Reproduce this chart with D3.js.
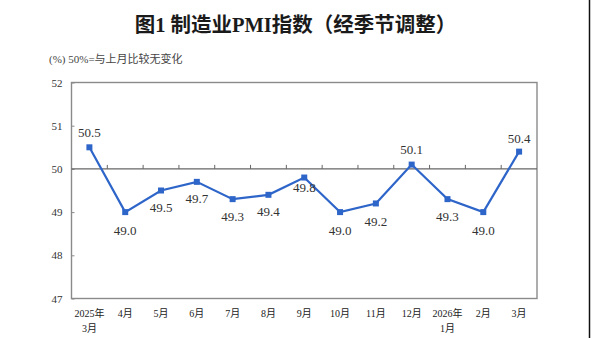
<!DOCTYPE html>
<html><head><meta charset="utf-8">
<script src="https://cdn.jsdelivr.net/npm/d3@7"></script>
<style>body{margin:0;background:#fff;}svg{display:block;}</style>
</head><body>
<svg id="c" width="591" height="338"></svg>
<script>
const categories = [["2025年","3月"],["4月"],["5月"],["6月"],["7月"],["8月"],["9月"],["10月"],["11月"],["12月"],["2026年","1月"],["2月"],["3月"]];
const pmi = [50.5,49.0,49.5,49.7,49.3,49.4,49.8,49.0,49.2,50.1,49.3,49.0,50.4];
const yTicks = [47,48,49,50,51,52];
const labelDy = [-15,18,17,17,17,17,10,18,18,-15,17,18,-13];

const svg = d3.select("#c");
const W=591,H=338;
const m={l:71.5,r:537,t:82.5,b:298.5};
const x = d3.scaleBand().domain(d3.range(categories.length)).range([m.l,m.r]);
const y = d3.scaleLinear().domain([47,52]).range([m.b,m.t]);
const serif = "'Liberation Serif','Noto Sans CJK SC',serif";
const sans = "'Noto Sans CJK SC',sans-serif";

const title = svg.append("text").attr("x",W/2).attr("y",32).attr("text-anchor","middle")
  .attr("font-family",sans).attr("font-size",20.5).attr("font-weight",700).attr("fill","#1a1a1a");
[["图",sans],["1 ",serif],["制造业",sans],["PMI",serif],["指数（经季节调整）",sans]].forEach(([s,f])=>
  title.append("tspan").attr("font-family",f).text(s));
svg.append("text").attr("x",49).attr("y",63)
  .attr("font-family",serif).attr("font-size",11).attr("fill","#444")
  .text("(%) 50%=与上月比较无变化");

// frame
svg.append("rect").attr("x",m.l).attr("y",m.t).attr("width",m.r-m.l).attr("height",m.b-m.t)
  .attr("fill","none").attr("stroke","#8a8a8a").attr("stroke-width",1.4);

// y axis
const ya = svg.append("g").attr("transform",`translate(${m.l},0)`)
  .call(d3.axisLeft(y).tickValues(yTicks).tickSize(-3).tickPadding(9).tickFormat(d3.format("d")));
ya.select(".domain").remove();
ya.selectAll("line").attr("stroke","#8a8a8a");
ya.selectAll("text").attr("font-family",serif).attr("font-size",11).attr("fill","#333");

// 50 line with ticks
const g50 = svg.append("g").attr("transform",`translate(0,${y(50)})`)
  .call(d3.axisTop(x).tickValues(d3.range(1,categories.length)).tickSize(4).tickFormat(""));
g50.selectAll(".tick line").attr("transform",`translate(${-x.step()/2},0)`).attr("stroke","#666");
g50.select(".domain").remove();
svg.append("line").attr("x1",m.l).attr("x2",m.r).attr("y1",y(50)).attr("y2",y(50))
  .attr("stroke","#666").attr("stroke-width",1.3);

// x labels
const cx = i => x(i)+x.bandwidth()/2;
const xl = svg.append("g");
categories.forEach((c,i)=>{
  const t = xl.append("text").attr("x",cx(i)).attr("y",317).attr("text-anchor","middle")
    .attr("font-family",serif).attr("font-size",10).attr("fill","#222");
  c.forEach((s,j)=>t.append("tspan").attr("x",cx(i)).attr("dy",j?15:0).text(s));
});

// line
svg.append("path").datum(pmi)
  .attr("d",d3.line().x((d,i)=>cx(i)).y(d=>y(d)))
  .attr("fill","none").attr("stroke","#2e65c9").attr("stroke-width",2.2);
svg.append("g").selectAll("rect").data(pmi).join("rect")
  .attr("x",(d,i)=>cx(i)-3).attr("y",d=>y(d)-3).attr("width",6).attr("height",6).attr("fill","#2e65c9");
svg.append("g").selectAll("text").data(pmi).join("text")
  .attr("x",(d,i)=>cx(i)).attr("y",(d,i)=>y(d)+labelDy[i]).attr("dy","0.35em")
  .attr("text-anchor","middle").attr("font-family",serif).attr("font-size",13).attr("fill","#333")
  .text(d=>d.toFixed(1));

// right edge line
svg.append("line").attr("x1",589.5).attr("x2",589.5).attr("y1",0).attr("y2",H)
  .attr("stroke","#111").attr("stroke-width",1.5);
</script>
</body></html>
